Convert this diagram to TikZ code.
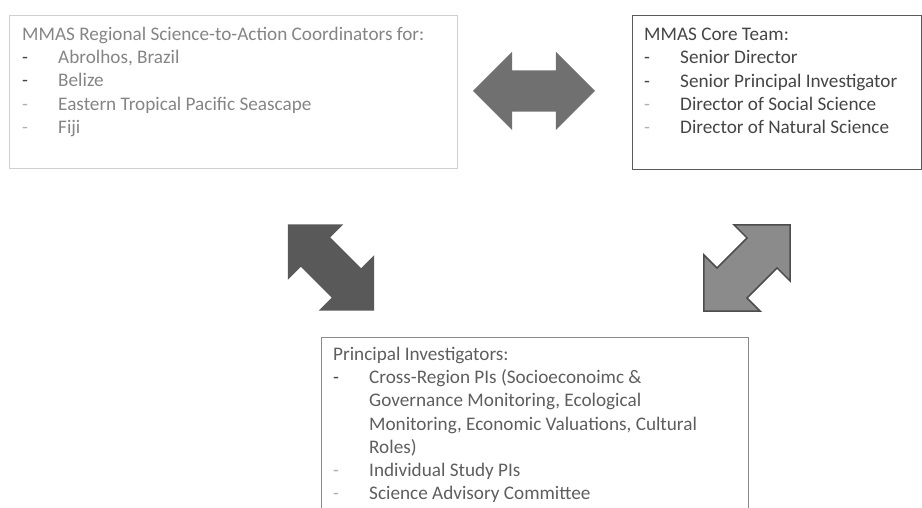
\documentclass[tikz,border=0pt]{standalone}
\usepackage{fontspec}
\setmainfont{Carlito}
\usetikzlibrary{positioning, shapes.arrows}
\tikzset{
    Box/.style = {
        rectangle, draw=#1, line width=1pt, inner sep=0pt, anchor=north west
    },
    Box/.default={black},
    List/.style = {
        inner sep=0pt, align=left, text=#1,
        font=\fontsize{19.2}{23.2}\selectfont
    },
    List/.default={black},
    BigArrow/.style = {
        double arrow, double arrow head extend=18.5pt,
        minimum height=122pt, inner xsep=0pt, inner ysep=20.5pt,
        fill=#1
    },
    BigArrow/.default={gray}
}
\definecolor{rLine}{HTML}{d0d0d0}
\definecolor{rText}{HTML}{858585}
\definecolor{cLine}{HTML}{5a5a5a}
\definecolor{cText}{HTML}{454545}
\definecolor{pLine}{HTML}{8a8a8a}
\definecolor{pText}{HTML}{5e5e5e}
\definecolor{dDark}{HTML}{444444}
\definecolor{dLight}{HTML}{b0b0b0}
\definecolor{hFill}{HTML}{707070}
\definecolor{lFill}{HTML}{595959}
\definecolor{qFill}{HTML}{8b8b8b}
\definecolor{qLine}{HTML}{4d4d4d}
\newcommand{\itm}[2]{\makebox[36pt][l]{\textcolor{#1}{-}}#2}

\begin{document}
\begin{tikzpicture}[x=1pt, y=1pt]
    \clip (0,0) rectangle (922,508);
    \node[Box=rLine, line width=1.2pt, minimum width=448pt, minimum height=153pt] (R) at (9,493) {};
    \node[Box=cLine, minimum width=289pt, minimum height=154pt] (C) at (632,493) {};
    \node[Box=pLine, line width=1.2pt, minimum width=427pt, minimum height=200pt] (P) at (321,171) {};
    \node[List=rText, below right=12pt and 13pt of R.north west] (RT) {%
        MMAS Regional Science-to-Action Coordinators for:\\
        \itm{dDark}{Abrolhos, Brazil}\\
        \itm{dDark}{Belize}\\
        \itm{dLight}{Eastern Tropical Pacific Seascape}\\
        \itm{dLight}{Fiji}};
    \node[List=cText, below right=13pt and 12pt of C.north west] (CT) {%
        MMAS Core Team:\\
        \itm{dDark}{Senior Director}\\
        \itm{dDark}{Senior Principal Investigator}\\
        \itm{dLight}{Director of Social Science}\\
        \itm{dLight}{Director of Natural Science}};
    \node[List=pText, below right=10pt and 12pt of P.north west] (PT) {%
        Principal Investigators:\\
        \itm{dDark}{Cross-Region PIs (Socioeconoimc \&}\\
        \hspace*{36pt}Governance Monitoring, Ecological\\
        \hspace*{36pt}Monitoring, Economic Valuations, Cultural\\
        \hspace*{36pt}Roles)\\
        \itm{dLight}{Individual Study PIs}\\
        \itm{dLight}{Science Advisory Committee}};
    \node[BigArrow=hFill] (H) at (534,417) {};
    \node[BigArrow=lFill, rotate=-45] (L) at (331,240.5) {};
    \node[BigArrow=qFill, draw=qLine, line width=1.5pt, rotate=45] (Q) at (747,240) {};
\end{tikzpicture}
\end{document}
